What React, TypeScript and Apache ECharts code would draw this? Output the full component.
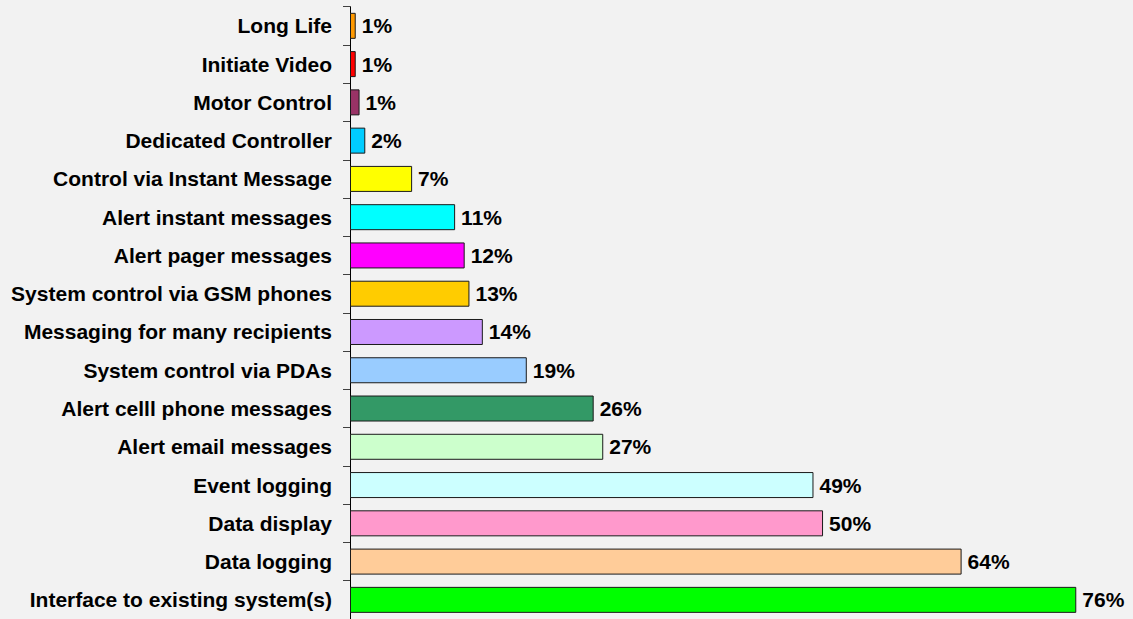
import React, { useEffect, useRef } from "react";
import * as echarts from "echarts";

const categories = [
  "Long Life",
  "Initiate Video",
  "Motor Control",
  "Dedicated Controller",
  "Control via Instant Message",
  "Alert instant messages",
  "Alert pager messages",
  "System control via GSM phones",
  "Messaging for many recipients",
  "System control via PDAs",
  "Alert celll phone messages",
  "Alert email messages",
  "Event logging",
  "Data display",
  "Data logging",
  "Interface to existing system(s)",
];

const values = [0.6, 0.6, 1.0, 1.6, 6.5, 11.0, 12.0, 12.5, 13.9, 18.5, 25.5, 26.5, 48.5, 49.5, 64.0, 76.0];

const colors = [
  "#FF9900",
  "#FF0000",
  "#993366",
  "#00CCFF",
  "#FFFF00",
  "#00FFFF",
  "#FF00FF",
  "#FFCC00",
  "#CC99FF",
  "#99CCFF",
  "#339966",
  "#CCFFCC",
  "#CCFFFF",
  "#FF99CC",
  "#FFCC99",
  "#00FF00",
];

export default function App() {
  const ref = useRef<HTMLDivElement>(null);
  useEffect(() => {
    if (!ref.current) return;
    const chart = echarts.init(ref.current, null, { renderer: "svg" });
    chart.setOption({
      animation: false,
      backgroundColor: "#F2F2F2",
      textStyle: { fontFamily: "Liberation Sans, Arial, sans-serif" },
      grid: { left: 350, top: 6.7, width: 764.5, height: 618.2, containLabel: false },
      xAxis: {
        type: "value",
        min: 0,
        max: 80,
        show: false,
        splitLine: { show: false },
      },
      yAxis: {
        type: "category",
        inverse: true,
        data: categories,
        axisLine: { show: true, lineStyle: { color: "#000000", width: 1 } },
        axisTick: { show: true, length: 7, lineStyle: { color: "#404040" } },
        axisLabel: {
          margin: 18,
          color: "#000000",
          fontWeight: "bold",
          fontSize: 21,
          fontFamily: "Liberation Sans, Arial, sans-serif",
        },
      },
      series: [
        {
          type: "bar",
          barWidth: 26,
          data: values.map((v, i) => ({
            value: v,
            itemStyle: { color: colors[i], borderColor: "#1a1a1a", borderWidth: 1 },
          })),
          label: {
            show: true,
            position: "right",
            distance: 6,
            color: "#000000",
            fontWeight: "bold",
            fontSize: 21,
            fontFamily: "Liberation Sans, Arial, sans-serif",
            formatter: (p: any) => Math.round(p.value) + "%",
          },
        },
      ],
    });
    return () => chart.dispose();
  }, []);
  return (
    <div
      ref={ref}
      style={{ position: "absolute", left: 0, top: 0, width: 1133, height: 619 }}
    />
  );
}
